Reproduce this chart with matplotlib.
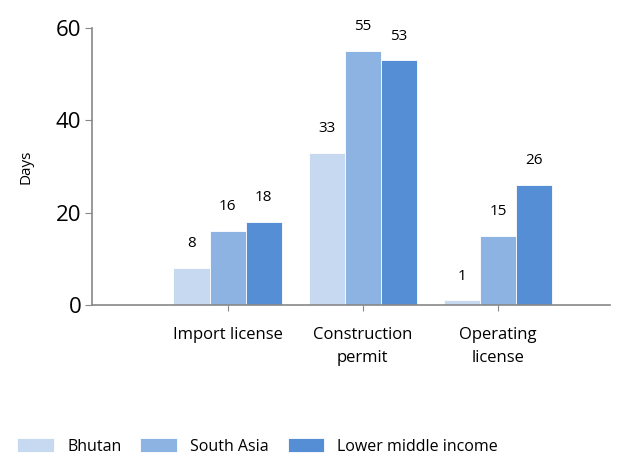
import numpy as np
import matplotlib.pyplot as plt

plt.rcParams['font.family'] = ['Open Sans', 'DejaVu Sans']

categories = ["Import license", "Construction\npermit", "Operating\nlicense"]
bhutan = [8, 33, 1]
south_asia = [16, 55, 15]
lower_middle = [18, 53, 26]
series_names = ["Bhutan", "South Asia", "Lower middle income"]
colors = ["#C6D9F1", "#8DB3E2", "#558ED5"]

fig = plt.figure(figsize=(6.24, 4.57), dpi=100)
ax = fig.add_axes([0.148, 0.333, 0.83, 0.606])

x = np.arange(1, len(categories) + 1)
w = 0.267
for i, (vals, name, c) in enumerate(zip([bhutan, south_asia, lower_middle], series_names, colors)):
    bars = ax.bar(x + (i - 1) * w, vals, w, color=c, edgecolor="white", linewidth=0.6, label=name)
    for b, v in zip(bars, vals):
        ax.annotate(str(v), (b.get_x() + b.get_width() / 2, v), xytext=(0, 12),
                    textcoords="offset points", ha="center", va="bottom", fontsize=11)

ax.set_xlim(0, 3.83)
ax.set_ylim(0, 60)
ax.set_yticks([0, 20, 40, 60])
ax.set_xticks(x)
ax.set_xticklabels(categories, fontsize=12, linespacing=1.55, va="top")
ax.tick_params(axis="y", labelsize=16, color="#888888", length=5, pad=3)
ax.tick_params(axis="x", color="#888888", length=4, pad=12)
for s in ["top", "right"]:
    ax.spines[s].set_visible(False)
for s in ["left", "bottom"]:
    ax.spines[s].set_color("#888888")
    ax.spines[s].set_linewidth(1.2)
ax.set_ylabel("Days", fontsize=11, labelpad=16)

fig.legend(loc="lower left", bbox_to_anchor=(0.005, -0.026), ncol=3, frameon=False,
           fontsize=11.5, handlelength=2.3, handleheight=1.0, columnspacing=1.2, handletextpad=0.8)

fig.savefig("out.png", dpi=100)
